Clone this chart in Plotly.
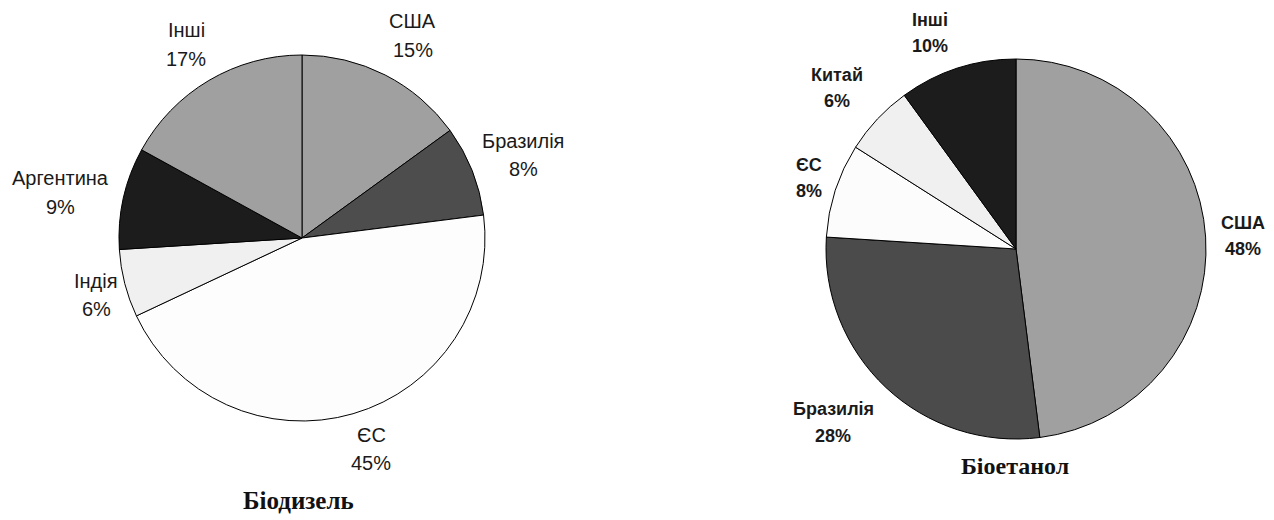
import plotly.graph_objects as go

W, H = 1274, 520
OFF = 8  # default body margin of the html page
FW, FH = W - OFF, H - OFF

# Біодизель
bd_labels = ["США", "Бразилія", "ЄС", "Індія", "Аргентина", "Інші"]
bd_values = [15, 8, 45, 6, 9, 17]
bd_colors = ["#a0a0a0", "#4d4d4d", "#fdfdfd", "#f0f0f0", "#1c1c1c", "#a0a0a0"]

# Біоетанол
be_labels = ["США", "Бразилія", "ЄС", "Китай", "Інші"]
be_values = [48, 28, 8, 6, 10]
be_colors = ["#a0a0a0", "#4b4b4b", "#fcfcfc", "#f0f0f0", "#1c1c1c"]

titles = ["Біодизель", "Біоетанол"]


def px(x, y):
    return (x - OFF) / FW, 1 - (y - OFF) / FH


def dom(cx, cy, r):
    x0, y1 = px(cx - r, cy - r)
    x1, y0 = px(cx + r, cy + r)
    return dict(x=[x0, x1], y=[y0, y1])


fig = go.Figure()

fig.add_trace(go.Pie(
    labels=bd_labels, values=bd_values, sort=False, direction="clockwise",
    rotation=0, textinfo="none", hoverinfo="label+percent",
    marker=dict(colors=bd_colors, line=dict(color="#000000", width=1)),
    domain=dom(302, 238, 183),
    showlegend=False,
))

fig.add_trace(go.Pie(
    labels=be_labels, values=be_values, sort=False, direction="clockwise",
    rotation=0, textinfo="none", hoverinfo="label+percent",
    marker=dict(colors=be_colors, line=dict(color="#000000", width=1)),
    domain=dom(1016, 249, 190),
    showlegend=False,
))

# label positions: (x, name line y, percent line y)
bd_pos = [(413, 21, 50), (523, 141, 169), (371, 435, 463), (96, 281, 309), (60, 178, 207), (186, 30, 59)]
be_pos = [(1243, 223, 249), (833, 409, 436), (809, 165, 191), (837, 75, 101), (930, 20, 46)]

annotations = []
for lab, val, (x, y1, y2) in zip(bd_labels, bd_values, bd_pos):
    for t, y in [(lab, y1), (f"{val}%", y2)]:
        ax, ay = px(x, y)
        annotations.append(dict(x=ax, y=ay, xref="paper", yref="paper", text=t, showarrow=False,
                                xanchor="center", yanchor="middle",
                                font=dict(family="Liberation Sans, Arial, sans-serif", size=20, color="#1a1a1a")))
for lab, val, (x, y1, y2) in zip(be_labels, be_values, be_pos):
    for t, y in [(lab, y1), (f"{val}%", y2)]:
        ax, ay = px(x, y)
        annotations.append(dict(x=ax, y=ay, xref="paper", yref="paper", text=f"<b>{t}</b>", showarrow=False,
                                xanchor="center", yanchor="middle",
                                font=dict(family="Liberation Sans, Arial, sans-serif", size=18, color="#1a1a1a")))

for t, (x, y), s in zip(titles, [(298, 500), (1015, 466)], [25, 24]):
    ax, ay = px(x, y)
    annotations.append(dict(x=ax, y=ay, xref="paper", yref="paper", text=f"<b>{t}</b>", showarrow=False,
                            xanchor="center", yanchor="middle",
                            font=dict(family="Liberation Serif, Times New Roman, serif", size=s, color="#111111")))

fig.update_layout(
    width=FW, height=FH, margin=dict(l=0, r=0, t=0, b=0),
    paper_bgcolor="white", plot_bgcolor="white",
    annotations=annotations,
)

fig.write_html("out.html")
